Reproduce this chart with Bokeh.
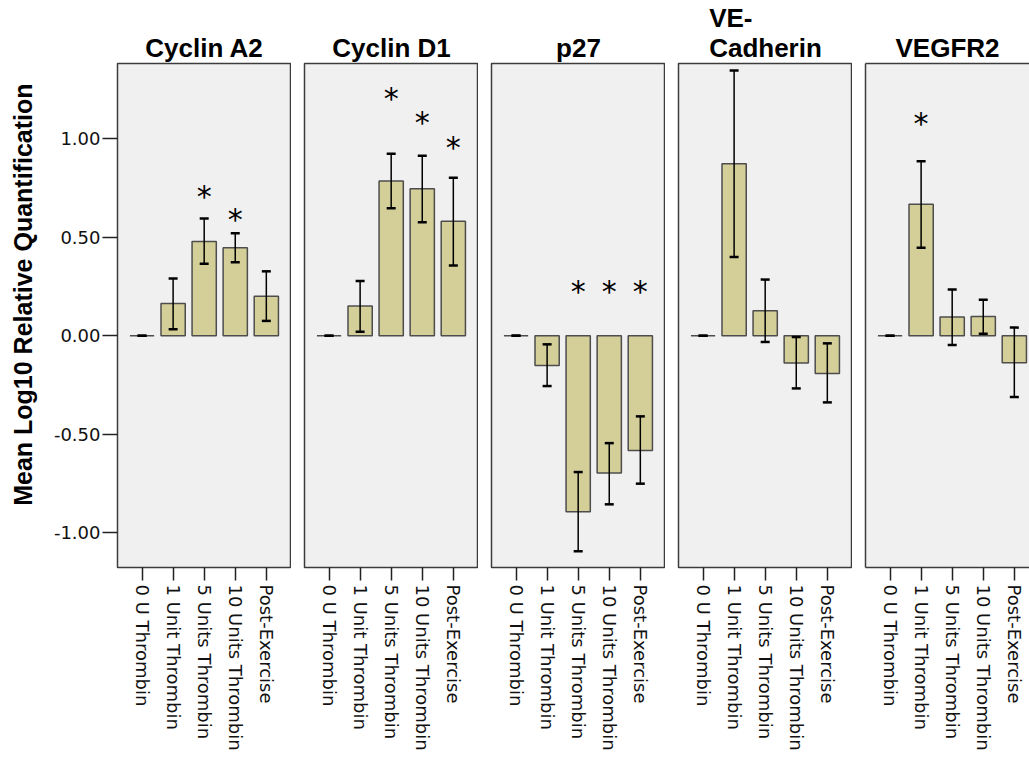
import math
from bokeh.plotting import figure
from bokeh.models import (ColumnDataSource, Range1d, FixedTicker, Whisker, TeeHead,
                          NumeralTickFormatter, LinearAxis)
from bokeh.layouts import row
from bokeh.embed import file_html
from bokeh.resources import INLINE
from bokeh.core.properties import value

# ---------------- data ----------------
conditions = ["0 U Thrombin", "1 Unit Thrombin", "5 Units Thrombin",
              "10 Units Thrombin", "Post-Exercise"]
genes = ["Cyclin A2", "Cyclin D1", "p27", "VE-\nCadherin", "VEGFR2"]

cyclin_a2_mean = [0.0, 0.163, 0.478, 0.447, 0.200]
cyclin_a2_upper = [0.0, 0.290, 0.595, 0.520, 0.327]
cyclin_a2_lower = [0.0, 0.032, 0.366, 0.373, 0.075]
cyclin_a2_star = [None, None, 0.707, 0.588, None]

cyclin_d1_mean = [0.0, 0.151, 0.786, 0.746, 0.581]
cyclin_d1_upper = [0.0, 0.278, 0.924, 0.914, 0.803]
cyclin_d1_lower = [0.0, 0.020, 0.647, 0.576, 0.357]
cyclin_d1_star = [None, None, 1.206, 1.085, 0.957]

p27_mean = [0.0, -0.151, -0.895, -0.698, -0.583]
p27_upper = [0.0, -0.044, -0.693, -0.546, -0.410]
p27_lower = [0.0, -0.256, -1.095, -0.857, -0.752]
p27_star = [None, None, 0.224, 0.224, 0.224]

ve_cadherin_mean = [0.0, 0.873, 0.127, -0.139, -0.192]
ve_cadherin_upper = [0.0, 1.347, 0.285, -0.007, -0.039]
ve_cadherin_lower = [0.0, 0.400, -0.032, -0.268, -0.339]
ve_cadherin_star = [None, None, None, None, None]

vegfr2_mean = [0.0, 0.668, 0.095, 0.097, -0.137]
vegfr2_upper = [0.0, 0.886, 0.234, 0.183, 0.041]
vegfr2_lower = [0.0, 0.447, -0.047, 0.010, -0.312]
vegfr2_star = [None, 1.079, None, None, None]

y_ticks = [-1.0, -0.5, 0.0, 0.5, 1.0]
y_label = "Mean Log10 Relative Quantification"

panels = [
    (genes[0], cyclin_a2_mean, cyclin_a2_upper, cyclin_a2_lower, cyclin_a2_star),
    (genes[1], cyclin_d1_mean, cyclin_d1_upper, cyclin_d1_lower, cyclin_d1_star),
    (genes[2], p27_mean, p27_upper, p27_lower, p27_star),
    (genes[3], ve_cadherin_mean, ve_cadherin_upper, ve_cadherin_lower, ve_cadherin_star),
    (genes[4], vegfr2_mean, vegfr2_upper, vegfr2_lower, vegfr2_star),
]

# ---------------- styling ----------------
BAR_FILL = "#D4CF98"
BAR_LINE = "#4d4d4d"
FRAME_BG = "#F0F0F0"
FRAME_LINE = "#3c3c3c"
REG_FONT = "DejaVu Sans"
BOLD_FONT = "Liberation Sans"
PX_PER_UNIT = 31.07

y_range = Range1d(-1.178, 1.383)
figs = []
for i, (title, mean, upper, lower, star) in enumerate(panels):
    first = i == 0
    last = i == len(panels) - 1
    fw = 164 if last else 174
    x_start = -0.79
    x_end = x_start + fw / PX_PER_UNIT
    xs = list(range(len(conditions)))

    p = figure(x_range=Range1d(x_start, x_end), y_range=y_range,
               frame_width=fw, frame_height=504,
               min_border_left=117 if first else 13, min_border_right=0,
               min_border_top=62, min_border_bottom=198,
               output_backend="svg", toolbar_location=None,
               y_axis_location="left" if (first or last) else None,
               background_fill_color=FRAME_BG, border_fill_color="white",
               outline_line_color=None if last else FRAME_LINE,
               outline_line_width=1.5)
    p.xgrid.visible = False
    p.ygrid.visible = False

    p.title.text = title
    p.title.align = "center"
    p.title.text_font = BOLD_FONT
    p.title.text_font_style = "bold"
    p.title.text_font_size = "26px"
    p.title.text_color = "black"
    p.title.text_line_height = 1.0
    p.title.standoff = 1

    src = ColumnDataSource(dict(x=xs, mean=mean, upper=upper, lower=lower))
    p.vbar(x="x", top="mean", bottom=0, width=0.78, source=src,
           fill_color=BAR_FILL, line_color=BAR_LINE, line_width=1.5)
    w = Whisker(base="x", upper="upper", lower="lower", source=src,
                level="overlay",
                line_color="black", line_width=1.5,
                upper_head=TeeHead(size=9, line_width=2.5, line_color="black"),
                lower_head=TeeHead(size=9, line_width=2.5, line_color="black"))
    p.add_layout(w)

    sx = [xs[j] for j in range(len(star)) if star[j] is not None]
    sy = [star[j] for j in range(len(star)) if star[j] is not None]
    if sx:
        p.text(x=sx, y=sy, text=value("*"), text_font=value(REG_FONT),
               text_font_size="30px", text_align="center",
               text_baseline="alphabetic", text_color="black")

    xa = p.xaxis[0]
    xa.ticker = FixedTicker(ticks=xs)
    xa.major_label_overrides = {k: c for k, c in enumerate(conditions)}
    xa.major_label_orientation = -math.pi / 2
    xa.major_label_text_font = REG_FONT
    xa.major_label_text_font_size = "18px"
    xa.major_label_text_color = "#111111"
    xa.major_label_standoff = 4
    xa.major_tick_out = 13
    xa.major_tick_in = 0
    xa.major_tick_line_color = "#222222"
    xa.major_tick_line_width = 1.5
    xa.minor_tick_line_color = None
    xa.axis_line_color = FRAME_LINE if last else None
    xa.axis_line_width = 1.5

    if first:
        ya = p.yaxis[0]
        ya.ticker = FixedTicker(ticks=y_ticks)
        ya.formatter = NumeralTickFormatter(format="0.00")
        ya.major_label_text_font = REG_FONT
        ya.major_label_text_font_size = "18px"
        ya.major_label_text_color = "#111111"
        ya.major_label_standoff = 2
        ya.major_tick_out = 15
        ya.major_tick_in = 0
        ya.major_tick_line_color = "#222222"
        ya.major_tick_line_width = 1.5
        ya.minor_tick_line_color = None
        ya.axis_line_color = None
        ya.axis_label = "\u00a0" * 6 + y_label
        ya.axis_label_text_font = BOLD_FONT
        ya.axis_label_text_font_style = "bold"
        ya.axis_label_text_font_size = "25px"
        ya.axis_label_text_color = "black"
        ya.axis_label_standoff = 14
    elif last:
        # panel cut by the picture's right edge: draw only left/top/bottom borders
        ya = p.yaxis[0]
        ya.ticker = FixedTicker(ticks=[])
        ya.major_label_text_font_size = "0px"
        ya.major_label_standoff = 0
        ya.major_tick_line_color = None
        ya.minor_tick_line_color = None
        ya.axis_line_color = FRAME_LINE
        ya.axis_line_width = 1.5
        top = LinearAxis(ticker=FixedTicker(ticks=[]), major_label_text_font_size="0px",
                         major_label_standoff=0, major_tick_line_color=None,
                         minor_tick_line_color=None, axis_line_color=FRAME_LINE,
                         axis_line_width=1.5)
        p.add_layout(top, "above")

    figs.append(p)

layout = row(*figs)
open("out.html", "w").write(file_html(layout, INLINE))
